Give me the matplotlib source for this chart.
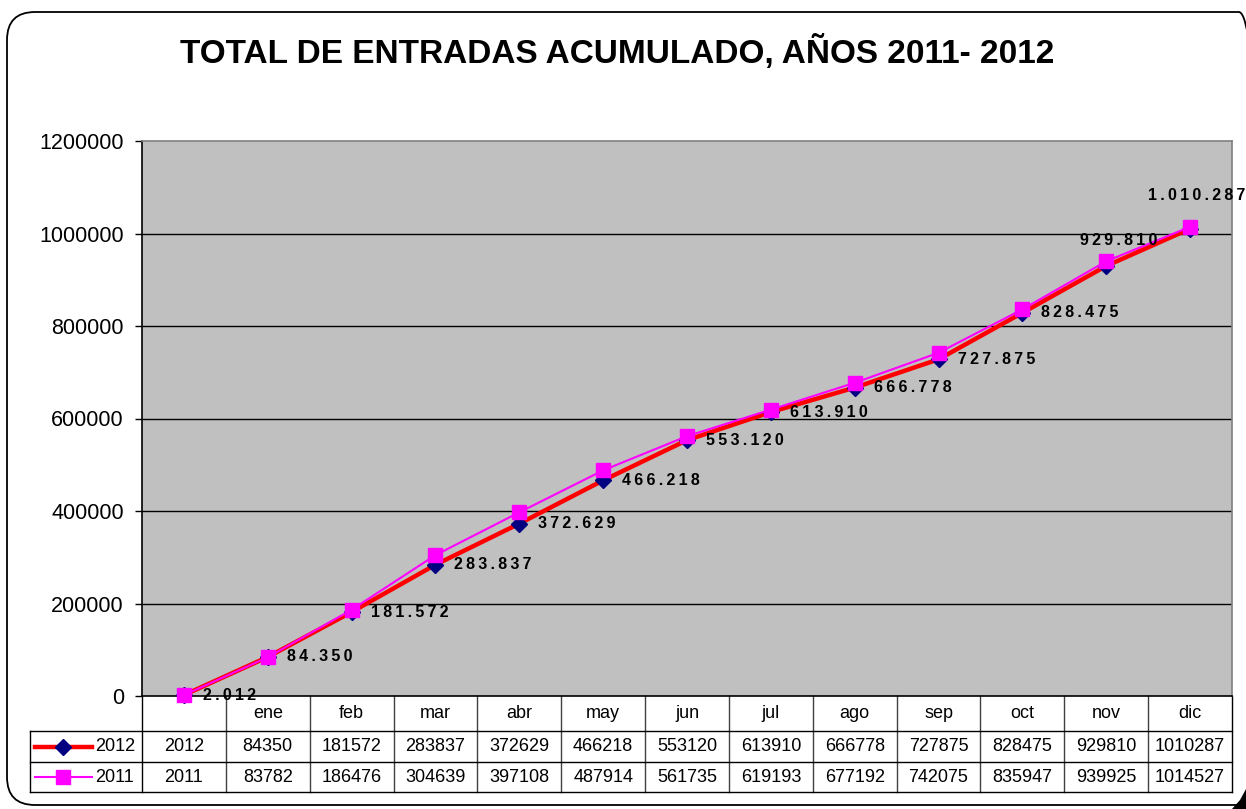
import matplotlib
matplotlib.use("Agg")
import matplotlib.pyplot as plt
from matplotlib.patches import FancyBboxPatch, Polygon
from matplotlib.lines import Line2D
from matplotlib.transforms import IdentityTransform

# ---- data ----
categories = ["", "ene", "feb", "mar", "abr", "may", "jun", "jul", "ago", "sep", "oct", "nov", "dic"]
values_2012 = [2012, 84350, 181572, 283837, 372629, 466218, 553120, 613910, 666778, 727875, 828475, 929810, 1010287]
values_2011 = [2011, 83782, 186476, 304639, 397108, 487914, 561735, 619193, 677192, 742075, 835947, 939925, 1014527]
labels_2012 = ["2.012", "84.350", "181.572", "283.837", "372.629", "466.218", "553.120",
               "613.910", "666.778", "727.875", "828.475", "929.810", "1.010.287"]
series_names = ["2012", "2011"]
yticks = [0, 200000, 400000, 600000, 800000, 1000000, 1200000]
title = "TOTAL DE ENTRADAS ACUMULADO, AÑOS 2011- 2012"

W, H = 1246, 809
FONT = ["Liberation Sans", "DejaVu Sans"]
plt.rcParams["font.family"] = FONT

fig = plt.figure(figsize=(W / 100, H / 100), dpi=100)
fig.patch.set_facecolor("white")

L, R, T, B = 142, 1232, 141, 696
ax = fig.add_axes([L / W, 1 - B / H, (R - L) / W, (B - T) / H])
ax.set_facecolor("#C0C0C0")

x = list(range(len(categories)))
ax.set_xlim(-0.5, len(categories) - 0.5)
ax.set_ylim(0, 1200000)
ax.set_yticks(yticks)
ax.set_yticklabels([str(v) for v in yticks], fontsize=15.5)
ax.tick_params(axis="y", length=5, width=1, color="black", pad=8)
ax.set_xticks([])
for yv in yticks[1:-1]:
    ax.axhline(yv, color="black", lw=1, zorder=1)
ax.spines["left"].set_color("black")
ax.spines["bottom"].set_color("black")
ax.spines["top"].set_color("#808080")
ax.spines["right"].set_color("#808080")
for s in ax.spines.values():
    s.set_linewidth(1.2)

ax.plot(x, values_2012, color="#FF0000", lw=3.2, marker="D", markersize=8.5,
        markerfacecolor="#000080", markeredgecolor="#000080", zorder=3, clip_on=False)
ax.plot(x, values_2011, color="#FF00FF", lw=1.5, marker="s", markersize=9.5,
        markerfacecolor="#FF00FF", markeredgecolor="#FF00FF", zorder=4, clip_on=False)

def spaced(s):
    return "\u2009".join(s)

for i, (xv, yv, lab) in enumerate(zip(x, values_2012, labels_2012)):
    if i == len(x) - 1:
        off, ha = (7, 33), "center"
    elif i == len(x) - 2:
        off, ha = (12, 25), "center"
    else:
        off, ha = (19, 0), "left"
    ax.annotate(spaced(lab), (xv, yv), xytext=off, textcoords="offset pixels",
                ha=ha, va="center", fontsize=11.5, fontweight="bold",
                color="#000000", zorder=5, annotation_clip=False)

# ---- title ----
fig.text(617 / W, 1 - 52 / H, title, ha="center", va="center",
         fontsize=24, fontweight="bold")

# ---- data table ----
tr = ax.get_xaxis_transform()
def ay(py):
    return (B - py) / (B - T)

rows_y = [696, 731, 762, 792]
n = len(categories)
for k in range(n + 1):
    xv = -0.5 + k
    col = "black" if k in (0, n) else "#404040"
    ax.plot([xv, xv], [ay(696), ay(792)], transform=tr, color=col, lw=1, clip_on=False)
for py in rows_y[1:]:
    fig.add_artist(Line2D([30 / W, R / W], [1 - py / H, 1 - py / H], color="black", lw=1))
fig.add_artist(Line2D([30 / W, 30 / W], [1 - 731 / H, 1 - 792 / H], color="black", lw=1))

for i, c in enumerate(categories):
    ax.text(i, ay(713), c, transform=tr, ha="center", va="center", fontsize=13, clip_on=False)
    ax.text(i, ay(746.5), str(values_2012[i]), transform=tr, ha="center", va="center",
            fontsize=13, clip_on=False)
    ax.text(i, ay(777), str(values_2011[i]), transform=tr, ha="center", va="center",
            fontsize=13, clip_on=False)

# legend keys in table
fig.add_artist(Line2D([35 / W, 92 / W], [1 - 746.5 / H] * 2, color="#FF0000", lw=3.2))
fig.add_artist(Line2D([63 / W], [1 - 746.5 / H], marker="D", markersize=8.5,
                      color="#000080", lw=0))
fig.add_artist(Line2D([35 / W, 92 / W], [1 - 777 / H] * 2, color="#FF00FF", lw=1.5))
fig.add_artist(Line2D([63 / W], [1 - 777 / H], marker="s", markersize=9.5,
                      color="#FF00FF", lw=0))
fig.text(95 / W, 1 - 746.5 / H, series_names[0], ha="left", va="center", fontsize=13)
fig.text(95 / W, 1 - 777 / H, series_names[1], ha="left", va="center", fontsize=13)

# ---- outer rounded border ----
border = FancyBboxPatch((7, H - 805), 1260, 793, boxstyle="round,pad=0,rounding_size=28",
                        transform=IdentityTransform(), facecolor="none",
                        edgecolor="black", lw=1.3)
fig.add_artist(border)
shadow = Polygon([(1232, 0), (1246, 0), (1246, 20), (1240, 9)], closed=True,
                 transform=IdentityTransform(), facecolor="black", edgecolor="none")
fig.add_artist(shadow)

fig.savefig("out.png", dpi=100)
